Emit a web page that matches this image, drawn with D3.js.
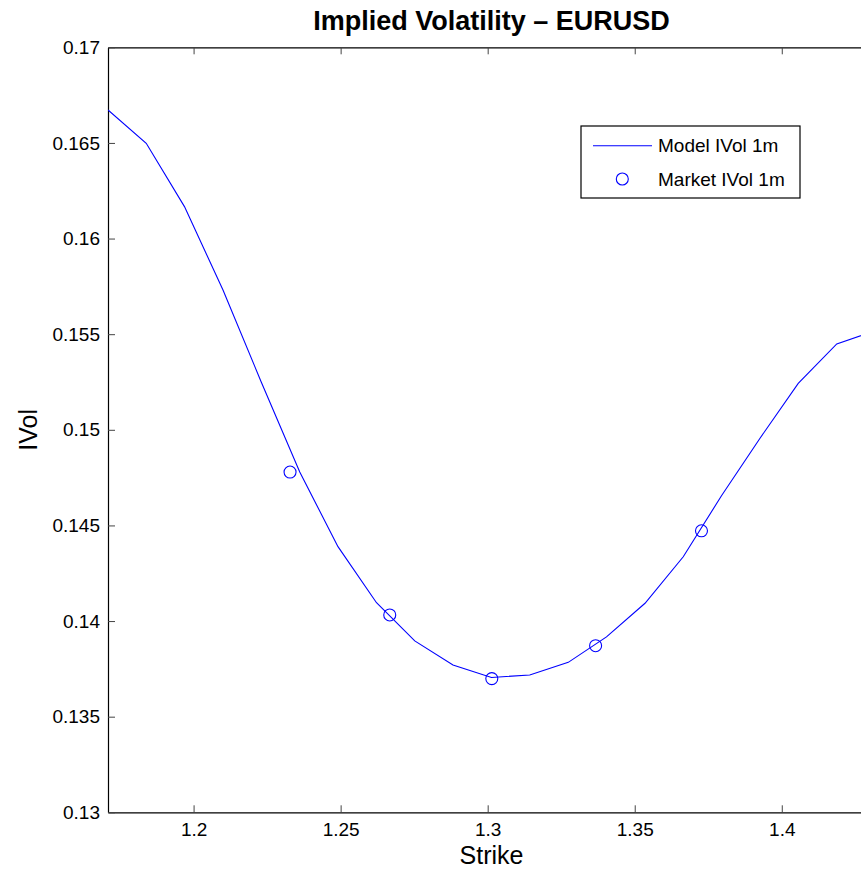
<!DOCTYPE html>
<meta charset="utf-8">

<style>

body {
  margin: 0;
  background: #fff;
}

svg text {
  font-family: "Liberation Sans", Arial, sans-serif;
  fill: #000;
}

svg .tick text {
  font-size: 19px;
}

svg .tick line {
  stroke: #444;
}

svg .title {
  font-size: 27px;
  font-weight: bold;
}

svg .axis-label {
  font-size: 25px;
}

svg .legend text {
  font-size: 19px;
}

</style>

<svg class="chart" width="861" height="870"></svg>

<script src="https://d3js.org/d3.v7.min.js"></script>

<script>

// model smile (line) and market quotes (circles)
var modelStrikes = [1.1709, 1.1839, 1.1969, 1.2100, 1.2230, 1.2361, 1.2491, 1.2622, 1.2752, 1.2882,
  1.3013, 1.3143, 1.3274, 1.3404, 1.3535, 1.3665, 1.3795, 1.3926, 1.4056, 1.4187, 1.4317];
var modelVols = [0.16672, 0.16498, 0.16167, 0.15731, 0.15250, 0.14779, 0.14389, 0.14096, 0.13896, 0.13770,
  0.13705, 0.13718, 0.13784, 0.13917, 0.14093, 0.14336, 0.14655, 0.14956, 0.15243, 0.15449, 0.15517];

var marketStrikes = [1.2328, 1.2667, 1.3014, 1.3367, 1.3727];
var marketVols = [0.14779, 0.14032, 0.13699, 0.13871, 0.14472];

var xTicks = [1.2, 1.25, 1.3, 1.35, 1.4];
var yTicks = [0.13, 0.135, 0.14, 0.145, 0.15, 0.155, 0.16, 0.165, 0.17];
var xTickLabels = ["1.2", "1.25", "1.3", "1.35", "1.4"];
var yTickLabels = ["0.13", "0.135", "0.14", "0.145", "0.15", "0.155", "0.16", "0.165", "0.17"];

var seriesNames = ["Model IVol 1m", "Market IVol 1m"];

var plotLeft = 108, plotTop = 47.3, plotW = 767, plotH = 765;

var svg = d3.select("svg.chart");

var x = d3.scaleLinear()
  .domain([modelStrikes[0], modelStrikes[modelStrikes.length - 1]])
  .range([0, plotW]);

var y = d3.scaleLinear()
  .domain([0.13, 0.17])
  .range([plotH, 0]);

var g = svg.append("g")
  .attr("transform", `translate(${plotLeft},${plotTop})`);

g.append("clipPath")
  .attr("id", "plot-clip")
  .append("rect")
    .attr("width", plotW)
    .attr("height", plotH);

// axes, ticks pointing inward like matlab
g.append("g")
  .attr("transform", `translate(0,${plotH})`)
  .call(d3.axisBottom(x)
    .tickValues(xTicks)
    .tickFormat(function(d, i) { return xTickLabels[i]; })
    .tickSizeInner(-7)
    .tickSizeOuter(0)
    .tickPadding(10));

g.append("g")
  .call(d3.axisTop(x)
    .tickValues(xTicks)
    .tickFormat("")
    .tickSizeInner(-7)
    .tickSizeOuter(0));

g.append("g")
  .call(d3.axisLeft(y)
    .tickValues(yTicks)
    .tickFormat(function(d, i) { return yTickLabels[i]; })
    .tickSizeInner(-7)
    .tickSizeOuter(0)
    .tickPadding(8));

g.append("g")
  .attr("transform", `translate(${plotW},0)`)
  .call(d3.axisRight(y)
    .tickValues(yTicks)
    .tickFormat("")
    .tickSizeInner(-7)
    .tickSizeOuter(0));

g.selectAll(".domain")
  .attr("stroke", "#000")
  .attr("stroke-width", 1.2);

g.selectAll(".tick text")
  .attr("font-family", null)
  .attr("font-size", null);

// model line
var line = d3.line()
  .x(function(d) { return x(d[0]); })
  .y(function(d) { return y(d[1]); });

g.append("path")
  .datum(d3.zip(modelStrikes, modelVols))
  .attr("clip-path", "url(#plot-clip)")
  .attr("fill", "none")
  .attr("stroke", "#0000ff")
  .attr("stroke-width", 1.1)
  .attr("d", line);

// market quotes
g.selectAll("circle.market")
  .data(d3.zip(marketStrikes, marketVols))
  .enter()
  .append("circle")
    .attr("class", "market")
    .attr("cx", function(d) { return x(d[0]); })
    .attr("cy", function(d) { return y(d[1]); })
    .attr("r", 6)
    .attr("fill", "none")
    .attr("stroke", "#0000ff")
    .attr("stroke-width", 1.1);

// titles
svg.append("text")
  .attr("class", "title")
  .attr("x", plotLeft + plotW / 2)
  .attr("y", 30)
  .attr("text-anchor", "middle")
  .text("Implied Volatility \u2013 EURUSD");

svg.append("text")
  .attr("class", "axis-label")
  .attr("x", plotLeft + plotW / 2)
  .attr("y", 864)
  .attr("text-anchor", "middle")
  .text("Strike");

svg.append("text")
  .attr("class", "axis-label")
  .attr("transform", `translate(37,${plotTop + plotH / 2}) rotate(-90)`)
  .attr("text-anchor", "middle")
  .text("IVol");

// legend
var legend = svg.append("g")
  .attr("class", "legend")
  .attr("transform", "translate(581,126)");

legend.append("rect")
  .attr("width", 219)
  .attr("height", 72)
  .attr("fill", "#fff")
  .attr("stroke", "#000")
  .attr("stroke-width", 1.2);

legend.append("line")
  .attr("x1", 12)
  .attr("x2", 71)
  .attr("y1", 19.7)
  .attr("y2", 19.7)
  .attr("stroke", "#0000ff")
  .attr("stroke-width", 1.1);

legend.append("circle")
  .attr("cx", 41.3)
  .attr("cy", 53)
  .attr("r", 6)
  .attr("fill", "none")
  .attr("stroke", "#0000ff")
  .attr("stroke-width", 1.1);

legend.selectAll("text")
  .data(seriesNames)
  .enter()
  .append("text")
    .attr("x", 77)
    .attr("y", function(d, i) { return 19.7 + i * 33.3; })
    .attr("dy", "0.35em")
    .text(function(d) { return d; });

</script>
